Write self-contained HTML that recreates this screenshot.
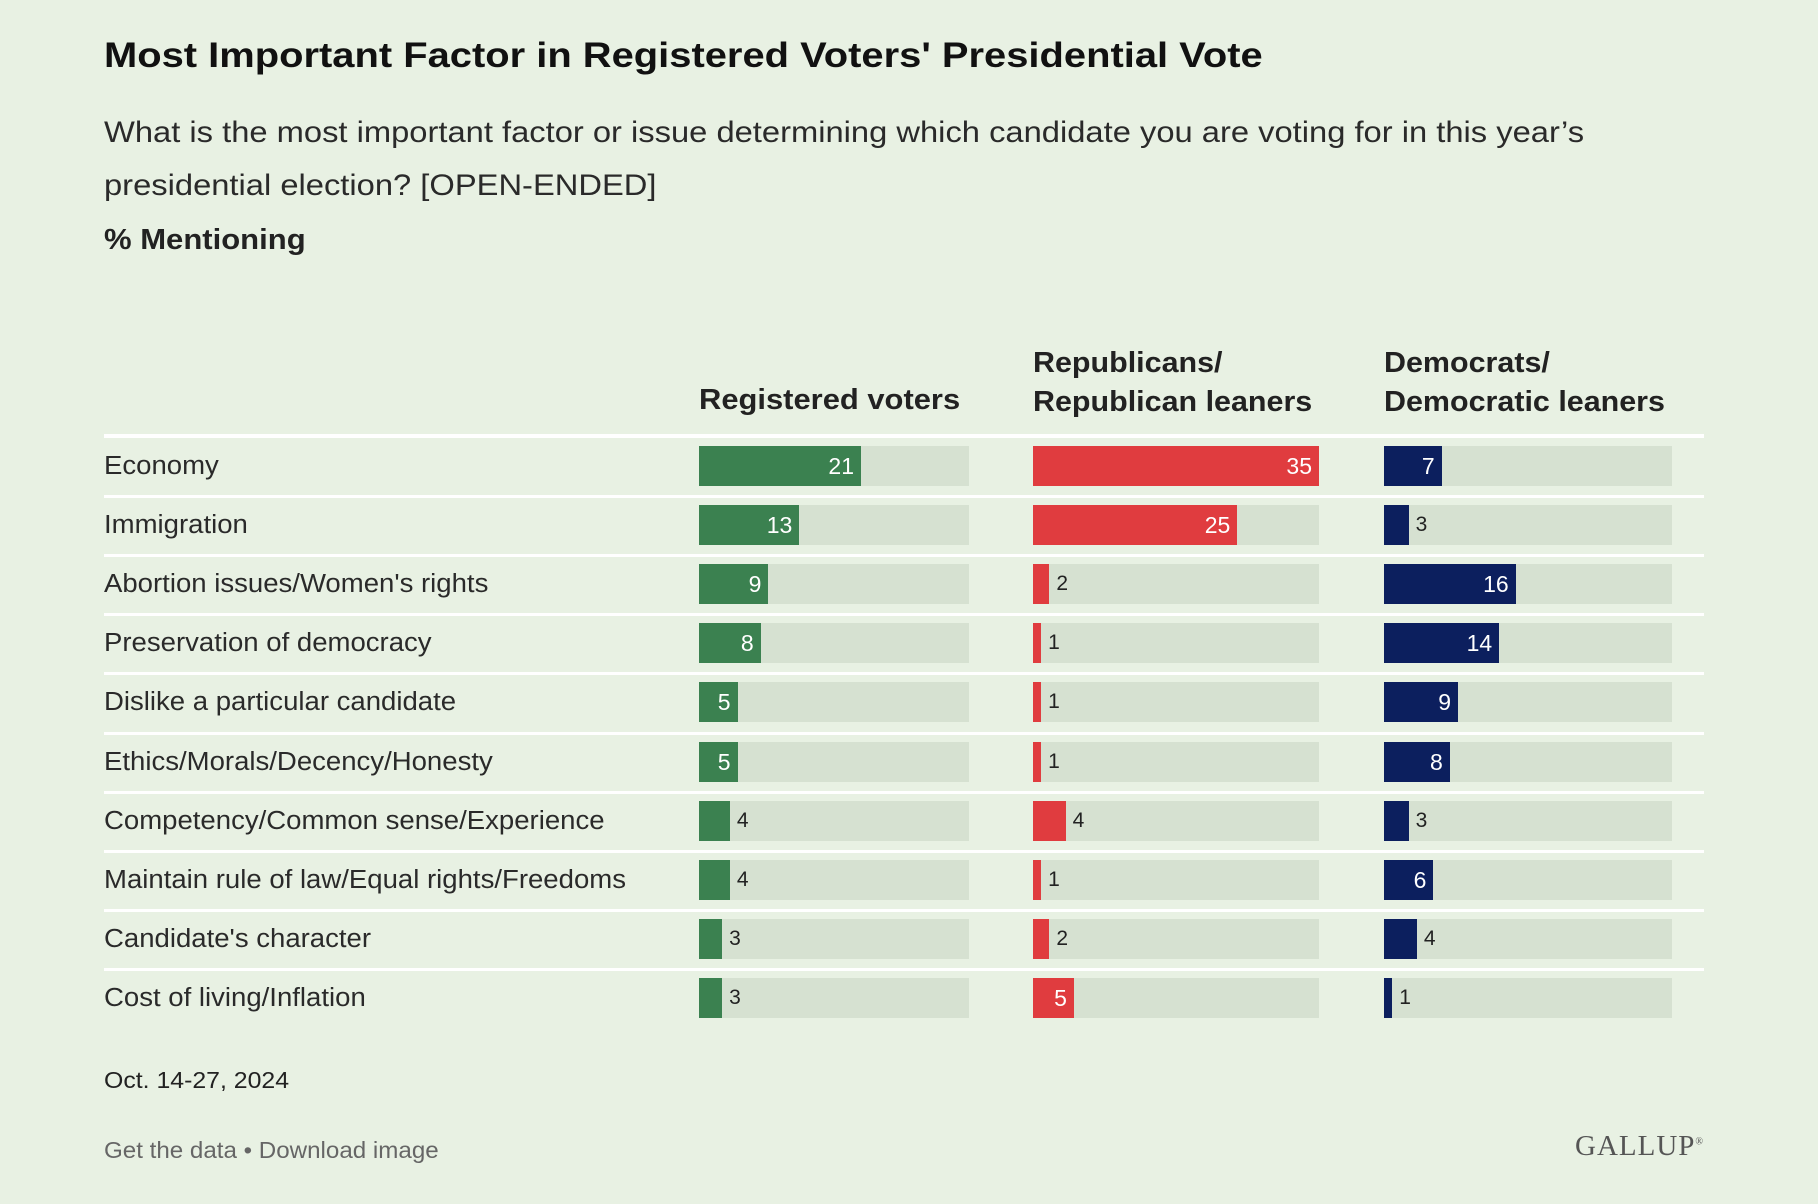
<!DOCTYPE html>
<html><head><meta charset="utf-8"><style>
body{margin:0;width:1818px;height:1204px;background:#e8f1e3;font-family:"Liberation Sans",sans-serif;color:#222;overflow:hidden;position:relative}
.a{position:absolute;white-space:nowrap;transform-origin:0 0}
</style></head><body>
<div class="a" style="left:104px;top:36px;font-size:35px;font-weight:bold;color:#111;transform:scaleX(1.14)">Most Important Factor in Registered Voters' Presidential Vote</div>
<div class="a" style="left:104px;top:106px;font-size:30px;line-height:53px;color:#2a2a2a;transform:scaleX(1.09)">What is the most important factor or issue determining which candidate you are voting for in this year’s<br>presidential election? [OPEN-ENDED]</div>
<div class="a" style="left:104px;top:224px;font-size:29px;font-weight:bold;transform:scaleX(1.07)">% Mentioning</div>
<div class="a" style="left:699px;top:384px;font-size:29px;font-weight:bold;transform:scaleX(1.066)">Registered voters</div>
<div class="a" style="left:1033px;top:344px;font-size:29px;font-weight:bold;line-height:39px;transform:scaleX(1.05)">Republicans/<br>Republican leaners</div>
<div class="a" style="left:1384px;top:344px;font-size:29px;font-weight:bold;line-height:39px;transform:scaleX(1.05)">Democrats/<br>Democratic leaners</div>
<div class="a" style="left:104px;top:434px;width:1600px;height:4px;background:#fff"></div>
<div id="rows"></div>
<div class="a" style="left:104px;top:1067px;font-size:23px;transform:scaleX(1.08)">Oct. 14-27, 2024</div>
<div class="a" style="left:104px;top:1137px;font-size:23px;color:#666;transform:scaleX(1.05)">Get the data • Download image</div>
<div class="a" style="right:114px;top:1130px;font-size:29px;font-family:'Liberation Serif',serif;color:#555;letter-spacing:1px">GALLUP<sup style="font-size:10px">®</sup></div>
<script>
const categories=["Economy","Immigration","Abortion issues/Women's rights","Preservation of democracy","Dislike a particular candidate","Ethics/Morals/Decency/Honesty","Competency/Common sense/Experience","Maintain rule of law/Equal rights/Freedoms","Candidate's character","Cost of living/Inflation"];
const registered=[21,13,9,8,5,5,4,4,3,3];
const republicans=[35,25,2,1,1,1,4,1,2,5];
const democrats=[7,3,16,14,9,8,3,6,4,1];
const domainMax=35;
const cols=[{v:registered,x:699,w:270,c:'#3b8150',n:'registered'},{v:republicans,x:1033,w:286,c:'#e03c3f',n:'republican'},{v:democrats,x:1384,w:288,c:'#0c1f5e',n:'democrat'}];
const root=document.getElementById('rows');
const top0=446,pitch=59.1,bh=40;
categories.forEach((cat,i)=>{
 const y=top0+i*pitch;
 const l=document.createElement('div');l.className='a';
 
 
 l.style.cssText=`left:104px;top:${y}px;height:${bh}px;line-height:${bh}px;font-size:25.5px;color:#2a2a2a;transform:scaleX(1.08)`;
 l.textContent=cat;root.appendChild(l);
 if(i>0){const s=document.createElement('div');s.className='a';
  
  
  s.style.cssText=`left:104px;top:${y-10}px;width:1600px;height:3px;background:#fff`;root.appendChild(s);}
 cols.forEach(c=>{
  const v=c.v[i];const bw=v/domainMax*c.w;
  const bg=document.createElement('div');bg.className='a';
  
  
  bg.style.cssText=`left:${c.x}px;top:${y}px;width:${c.w}px;height:${bh}px;background:#d6e1d1`;root.appendChild(bg);
  const b=document.createElement('div');b.className='a';
  
  
  b.style.cssText=`left:${c.x}px;top:${y}px;width:${bw}px;height:${bh}px;background:${c.c}`;root.appendChild(b);
  const t=document.createElement('div');t.className='a';
  
  
  t.textContent=v;
  if(v>=5){t.style.cssText=`right:${1818-(c.x+bw)+7}px;top:${y}px;line-height:${bh}px;font-size:23px;color:#fff`;}
  else{t.style.cssText=`left:${c.x+bw+7}px;top:${y}px;line-height:${bh}px;font-size:21px;color:#222`;}
  root.appendChild(t);
 });
});
</script>
</body></html>
